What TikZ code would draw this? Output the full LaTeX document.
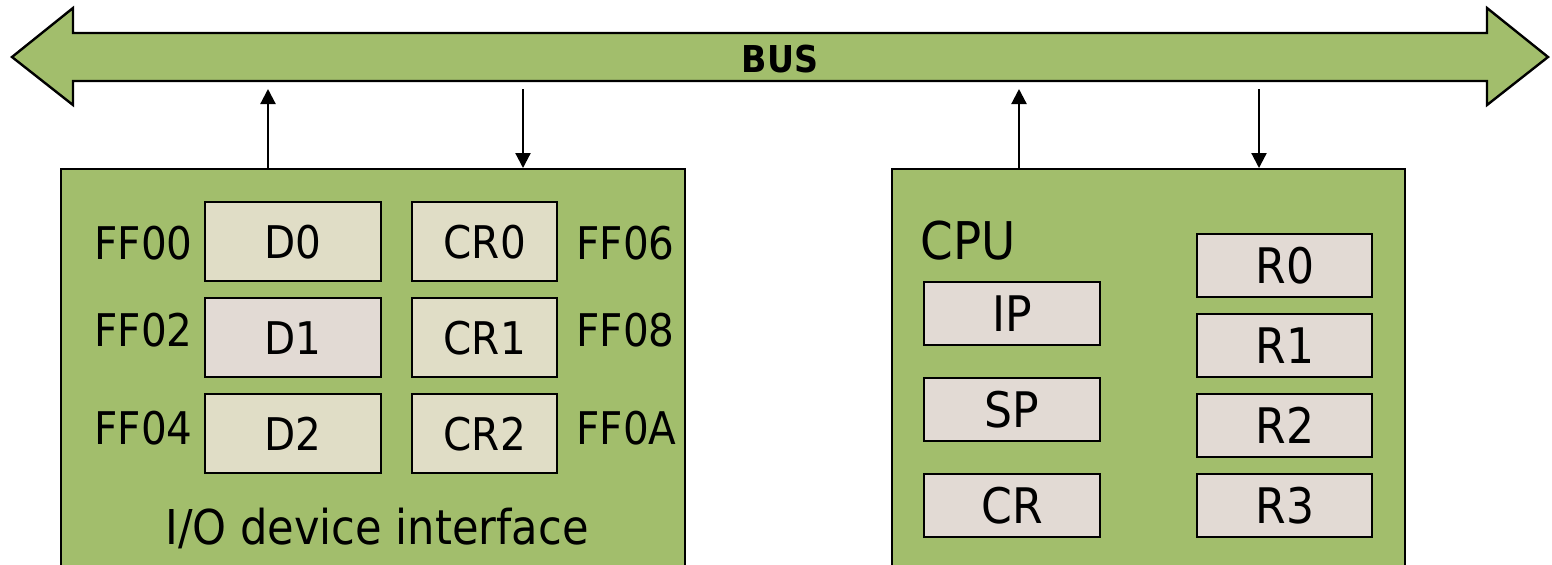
\documentclass[tikz,border=0pt]{standalone}
\usepackage{fontspec}
\setmainfont{DejaVu Sans Condensed}
\usetikzlibrary{arrows.meta,positioning}
\definecolor{busgreen}{HTML}{A2BE6C}
\definecolor{regbeige}{HTML}{E0DDC6}
\definecolor{regpink}{HTML}{E2DAD4}

\begin{document}
\begin{tikzpicture}[
    x=.5pt,y=-.5pt,
    bus/.style={draw=black,line width=1.2pt,fill=busgreen,line join=miter},
    unit/.style={draw=black,line width=1.2pt,fill=busgreen,anchor=north west,minimum height=220pt,inner sep=0pt},
    reg/.style={draw=black,line width=1.2pt,anchor=north west,inner sep=0pt,font=\fontsize{22.5}{26}\selectfont},
    creg/.style={reg,fill=regpink,minimum height=31.5pt,font=\fontsize{24.5}{28}\selectfont},
    lbl/.style={inner sep=0pt,font=\fontsize{22.5}{26}\selectfont},
    link/.style={-{Triangle[length=7.5pt,width=7.5pt]},line width=1.1pt}
  ]
    \useasboundingbox (0,0) rectangle (1552,564);
    \clip (0,0) rectangle (1552,564);
    % system bus
    \draw[bus] (12,57) -- (73,8) -- (73,33) -- (1487,33) -- (1487,8) -- (1548,57)
      -- (1487,105) -- (1487,81) -- (73,81) -- (73,105) -- cycle;
    \node[font=\fontsize{18.5}{21}\selectfont\bfseries] (bus) at (780,59) {BUS};
    \coordinate (up1) at (268,89); \coordinate (dn1) at (523,89);
    \coordinate (up2) at (1019,89); \coordinate (dn2) at (1259,89);
    % I/O device interface
    \node[unit,minimum width=312pt] (io) at (60,168) {};
    \foreach \n/\y/\c in {D0/201/regbeige,D1/297/regpink,D2/393/regbeige}
      {\node[reg,fill=\c,minimum width=88pt,minimum height=39.5pt] (\n) at (204,\y) {\n};}
    \foreach \n/\y in {CR0/201,CR1/297,CR2/393}
      {\node[reg,fill=regbeige,minimum width=72.5pt,minimum height=39.5pt] (\n) at (411,\y) {\n};}
    \foreach \t/\y in {FF00/243,FF02/330,FF04/428}
      {\node[lbl,anchor=east] (a\t) at (193,\y) {\t};}
    \foreach \t/\y in {FF06/243,FF08/330,FF0A/428}
      {\node[lbl,anchor=west] (a\t) at (576,\y) {\t};}
    \node[lbl,font=\fontsize{24}{28}\selectfont] (iolbl) at (377,528) {I/O device interface};
    % CPU
    \node[unit,minimum width=256.5pt] (cpu) at (891,168) {};
    \node[lbl,anchor=west,font=\fontsize{26}{30}\selectfont] (cpulbl) at (920,241) {CPU};
    \foreach \n/\y in {IP/281,SP/377,CR/473}
      {\node[creg,minimum width=88pt] (c\n) at (923,\y) {\n};}
    \foreach \n/\y in {R0/233,R1/313,R2/393,R3/473}
      {\node[creg,minimum width=87.5pt] (c\n) at (1196,\y) {\n};}
    % bus connections
    \draw[link] (io.north -| up1) -- (up1);
    \draw[link] (dn1) -- (io.north -| dn1);
    \draw[link] (cpu.north -| up2) -- (up2);
    \draw[link] (dn2) -- (cpu.north -| dn2);
  \end{tikzpicture}
\end{document}
